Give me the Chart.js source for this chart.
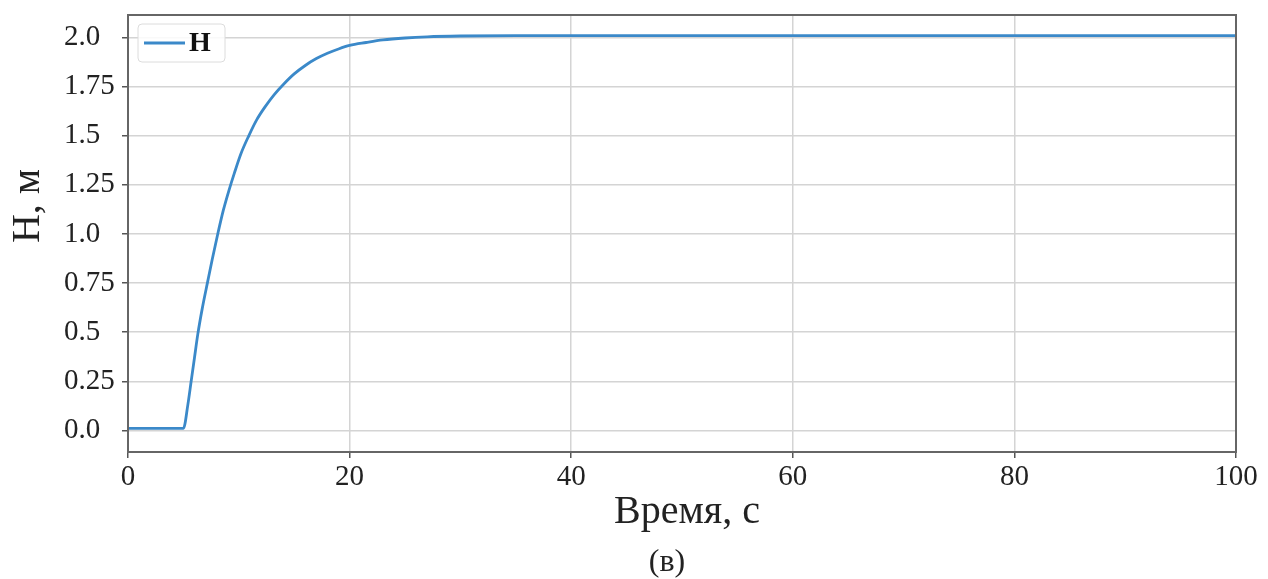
<!DOCTYPE html>
<html lang="ru">
<head>
    <meta charset="UTF-8">
    <title>Н(t)</title>
    <script src="https://cdn.jsdelivr.net/npm/chart.js"></script>
    <style>
        html, body { margin: 0; padding: 0; background: #fff; }
        #wrap { width: 1268px; height: 579px; position: relative; }
    </style>
</head>
<body>
    <div id="wrap"><canvas id="hChart"></canvas></div>

    <script>
        // значения
        const timeSec = [0, 5.0, 5.4, 5.7, 6.0, 6.3, 6.7, 7.2, 7.6, 8.1, 8.6, 9.1, 9.6, 10.2, 10.9, 11.6, 12.4, 13.2, 14.0, 15.0, 16.0, 17.0, 18.0, 19.0, 20.0, 21.5, 23.0, 25.0, 27.0, 30.0, 35.0, 100];
        const levelH  = [0.01, 0.01, 0.13, 0.25, 0.37, 0.49, 0.62, 0.76, 0.87, 1.0, 1.12, 1.22, 1.31, 1.41, 1.5, 1.58, 1.65, 1.71, 1.76, 1.815, 1.858, 1.893, 1.92, 1.942, 1.96, 1.975, 1.988, 1.998, 2.004, 2.008, 2.01, 2.01];
        const yTicks = [0, 0.25, 0.5, 0.75, 1.0, 1.25, 1.5, 1.75, 2.0];
        const yTickLabels = ['0.0', '0.25', '0.5', '0.75', '1.0', '1.25', '1.5', '1.75', '2.0'];
        const xTicks = [0, 20, 40, 60, 80, 100];

        const serif = '"Liberation Serif", "DejaVu Serif", serif';
        const lineColor = '#3b89c9';

        const extras = {
            id: 'extras',
            afterDraw(chart) {
                const ctx = chart.ctx;
                const a = chart.chartArea;
                ctx.save();
                // рамка
                ctx.strokeStyle = '#666';
                ctx.lineWidth = 2;
                ctx.strokeRect(a.left, a.top, a.right - a.left, a.bottom - a.top);

                // легенда
                ctx.beginPath();
                ctx.roundRect(138, 24, 87, 38, 4);
                ctx.fillStyle = 'rgba(255,255,255,0.85)';
                ctx.fill();
                ctx.strokeStyle = '#dcdcdc';
                ctx.lineWidth = 1;
                ctx.stroke();
                ctx.beginPath();
                ctx.moveTo(144, 43);
                ctx.lineTo(185, 43);
                ctx.strokeStyle = lineColor;
                ctx.lineWidth = 2.8;
                ctx.stroke();
                ctx.fillStyle = '#111';
                ctx.font = 'bold 28px ' + serif;
                ctx.textBaseline = 'middle';
                ctx.textAlign = 'left';
                ctx.fillText(chart.data.datasets[0].label, 189, 44);

                // подписи осей
                ctx.fillStyle = '#222';
                ctx.font = '40px ' + serif;
                ctx.textAlign = 'center';
                ctx.textBaseline = 'alphabetic';
                ctx.fillText('Время, с', 687, 523);
                ctx.font = '32px ' + serif;
                ctx.fillText('(в)', 667, 571);

                ctx.translate(39, 206);
                ctx.rotate(-Math.PI / 2);
                ctx.font = '40px ' + serif;
                ctx.fillText('Н, м', 0, 0);
                ctx.restore();
            }
        };

        new Chart(document.getElementById('hChart'), {
            type: 'line',
            data: {
                datasets: [{
                    label: 'Н',
                    data: timeSec.map((t, i) => ({ x: t, y: levelH[i] })),
                    borderColor: lineColor,
                    borderWidth: 2.8,
                    pointRadius: 0,
                    cubicInterpolationMode: 'monotone',
                    fill: false
                }]
            },
            options: {
                responsive: true,
                maintainAspectRatio: false,
                animation: false,
                layout: { padding: { left: 64, right: 32, top: 15, bottom: 0 } },
                plugins: {
                    legend: { display: false },
                    tooltip: { enabled: false }
                },
                scales: {
                    x: {
                        type: 'linear',
                        min: 0,
                        max: 100,
                        afterFit: s => { s.height = 127; s.paddingLeft = 0; s.paddingRight = 0; },
                        afterBuildTicks: s => { s.ticks = xTicks.map(v => ({ value: v })); },
                        grid: { color: '#d4d4d4', lineWidth: 1.5, tickLength: 6, tickColor: '#555' },
                        border: { color: '#666', width: 2 },
                        ticks: {
                            font: { family: serif, size: 29 },
                            color: '#222',
                            padding: 2,
                            maxRotation: 0
                        }
                    },
                    y: {
                        min: -0.11,
                        max: 2.115,
                        afterFit: s => { s.width = 64; s.paddingTop = 0; s.paddingBottom = 0; },
                        afterBuildTicks: s => { s.ticks = yTicks.map(v => ({ value: v })); },
                        grid: { color: '#d4d4d4', lineWidth: 1.5, tickLength: 6, tickColor: '#555' },
                        border: { color: '#666', width: 2 },
                        ticks: {
                            font: { family: serif, size: 29 },
                            color: '#222',
                            crossAlign: 'far',
                            callback: v => {
                                const i = yTicks.indexOf(v);
                                return i >= 0 ? yTickLabels[i] : '';
                            }
                        }
                    }
                }
            },
            plugins: [extras]
        });
    </script>
</body>
</html>
